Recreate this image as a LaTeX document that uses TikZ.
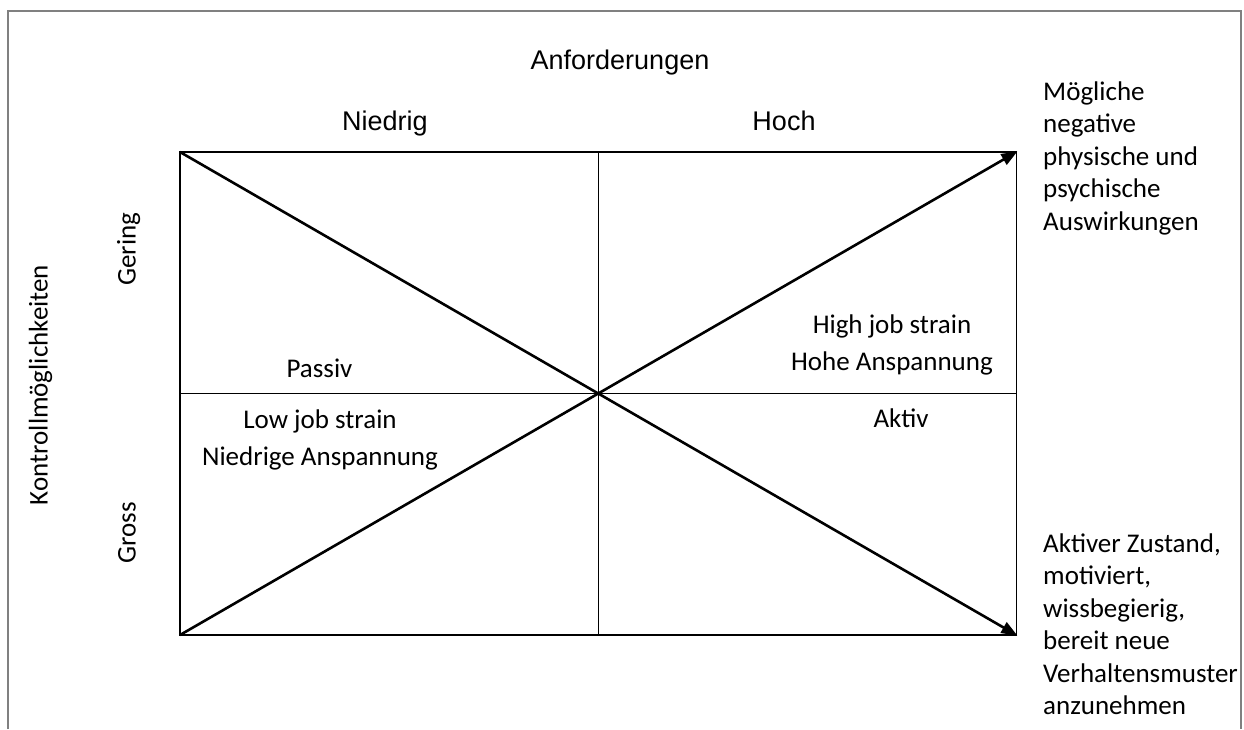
\documentclass[tikz,border=0pt]{standalone}
\usepackage{fontspec}
\setmainfont{Carlito}
\newfontfamily\arialfont{Liberation Sans}
\usetikzlibrary{arrows.meta}
\tikzset{
  gridline/.style={draw=black, line width=1.2pt},
  diag/.style={draw=black, line width=2.6pt, -{Triangle[length=16pt,width=12pt]}, shorten >=-1pt},
  frame/.style={draw=black!50, line width=2pt},
  headlbl/.style={font=\arialfont\fontsize{27}{32}\selectfont, inner sep=0pt, anchor=base},
  lbl/.style={font=\fontsize{27}{32}\selectfont, inner sep=0pt, anchor=base},
  sidelbl/.style={font=\fontsize{27}{32}\selectfont, inner sep=0pt, anchor=base, rotate=90},
}
\begin{document}
\begin{tikzpicture}[x=1pt, y=-1pt]
\useasboundingbox (0,0) rectangle (1244,729);
% outer frame (open at bottom)
\coordinate (f1) at (8,729);
\coordinate (f2) at (8,10.5);
\coordinate (f3) at (1241,10.5);
\coordinate (f4) at (1241,729);
\draw[frame] (f1) -- (f2) -- (f3) -- (f4);
% grid corners
\coordinate (tl) at (180,152);
\coordinate (tr) at (1016.5,152);
\coordinate (bl) at (180,635);
\coordinate (br) at (1016.5,635);
\coordinate (tm) at (598.3,152);
\coordinate (bm) at (598.3,635);
\coordinate (lm) at (180,393.5);
\coordinate (rm) at (1016.5,393.5);
\draw[gridline] (tl) rectangle (br);
\draw[gridline] (tm) -- (bm);
\draw[gridline] (lm) -- (rm);
% diagonals
\draw[diag] (tl) -- (br);
\draw[diag] (bl) -- (tr);
% headings
\node[headlbl] (anf) at (620,69) {Anforderungen};
\node[headlbl] (nied) at (385,130) {Niedrig};
\node[headlbl] (hoch) at (784,130) {Hoch};
% side labels
\node[sidelbl] (kontr) at (47.5,385) {Kontrollmöglichkeiten};
\node[sidelbl] (gering) at (135.5,249) {Gering};
\node[sidelbl] (gross) at (135.5,533) {Gross};
% quadrant labels
\node[lbl] (passiv) at (319.5,377) {Passiv};
\node[lbl] (low) at (320,428) {\begin{tabular}[t]{@{}c@{}}Low job strain\\[5pt]Niedrige Anspannung\end{tabular}};
\node[lbl] (high) at (892,333) {\begin{tabular}[t]{@{}c@{}}High job strain\\[5pt]Hohe Anspannung\end{tabular}};
\node[lbl] (aktiv) at (901,427) {Aktiv};
% right outcomes
\node[lbl, anchor=base west, font=\fontsize{27}{32.5}\selectfont] (neg) at (1043,100) {\begin{tabular}[t]{@{}l@{}}Mögliche\\negative\\physische und\\psychische\\Auswirkungen\end{tabular}};
\node[lbl, anchor=base west, font=\fontsize{27}{32.5}\selectfont] (pos) at (1043,552) {\begin{tabular}[t]{@{}l@{}}Aktiver Zustand,\\motiviert,\\wissbegierig,\\bereit neue\\Verhaltensmuster\\anzunehmen\end{tabular}};
\end{tikzpicture}
\end{document}
